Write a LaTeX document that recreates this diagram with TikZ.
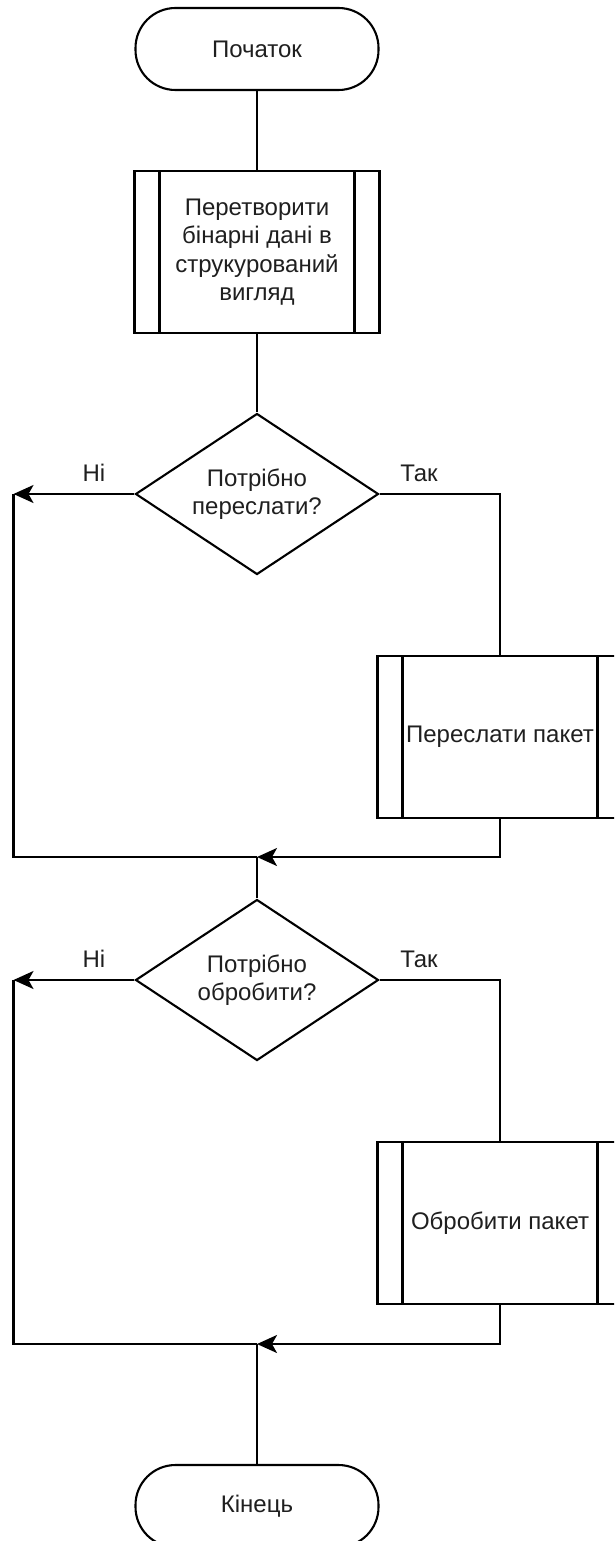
\documentclass[tikz,border=0pt]{standalone}
\usepackage{fontspec}
\setmainfont{Liberation Sans}
\usetikzlibrary{shapes.geometric,arrows.meta}

\tikzset{
  base/.style={draw=black, line width=2.1pt, fill=white, inner sep=0pt,
    font=\fontsize{24}{28.5}\selectfont, text=black!88, align=center},
  terminal/.style={base, rectangle, rounded corners=40pt,
    minimum width=243pt, minimum height=82pt},
  subproc/.style={base, rectangle, minimum width=245pt, minimum height=162pt,
    path picture={
      \draw[line width=2.1pt]
        ([xshift=25pt]path picture bounding box.north west) --
        ([xshift=25pt]path picture bounding box.south west)
        ([xshift=-25pt]path picture bounding box.north east) --
        ([xshift=-25pt]path picture bounding box.south east);
    }},
  decision/.style={base, diamond, aspect=1.5,
    minimum width=243pt, minimum height=161pt},
  flow/.style={draw=black, line width=2.1pt},
  arrowflow/.style={flow, -{Stealth[length=20pt, width=18pt, inset=5pt]}},
  edgelabel/.style={font=\fontsize{24}{28.5}\selectfont, text=black!88, inner sep=0pt}
}

\begin{document}
\begin{tikzpicture}[x=1pt, y=1pt]
  \useasboundingbox (0,0) rectangle (614,-1541);
  \clip (0,0) rectangle (614,-1541);
  \fill[white] (0,0) rectangle (614,-1541);

  % main column
  \node[terminal] (start) at (257,-49) {Початок};
  \node[subproc] (conv) at (257,-252)
    {Перетворити\\бінарні дані в\\струкурований\\вигляд};
  \node[decision] (fwdq) at (257,-494) {Потрібно\\переслати?};
  \node[subproc] (fwd) at (500,-737) {Переслати пакет};
  \coordinate (join1) at (257,-857);
  \coordinate (nofwd) at (13.5,-494);

  \node[decision] (procq) at (257,-980) {Потрібно\\обробити?};
  \node[subproc] (proc) at (500,-1223) {Обробити пакет};
  \coordinate (join2) at (257,-1344);
  \coordinate (noproc) at (13.5,-980);
  \node[terminal] (stop) at (257,-1506) {Кінець};

  % branch labels
  \node[edgelabel] (no1) at (94,-473) {Ні};
  \node[edgelabel] (yes1) at (419,-473) {Так};
  \node[edgelabel] (no2) at (94,-959) {Ні};
  \node[edgelabel] (yes2) at (419,-959) {Так};

  % connectors
  \draw[flow] (start) -- (conv);
  \draw[flow] (conv) -- (fwdq);
  \draw[arrowflow] (fwdq.west) -- (nofwd);
  \draw[flow] (nofwd) |- (join1);
  \draw[flow] (fwdq.east) -| (fwd.north);
  \draw[arrowflow] (fwd.south) |- (join1);
  \draw[flow] (join1) -- (procq.north);

  \draw[arrowflow] (procq.west) -- (noproc);
  \draw[flow] (noproc) |- (join2);
  \draw[flow] (procq.east) -| (proc.north);
  \draw[arrowflow] (proc.south) |- (join2);
  \draw[flow] (join2) -- (stop.north);
\end{tikzpicture}
\end{document}
